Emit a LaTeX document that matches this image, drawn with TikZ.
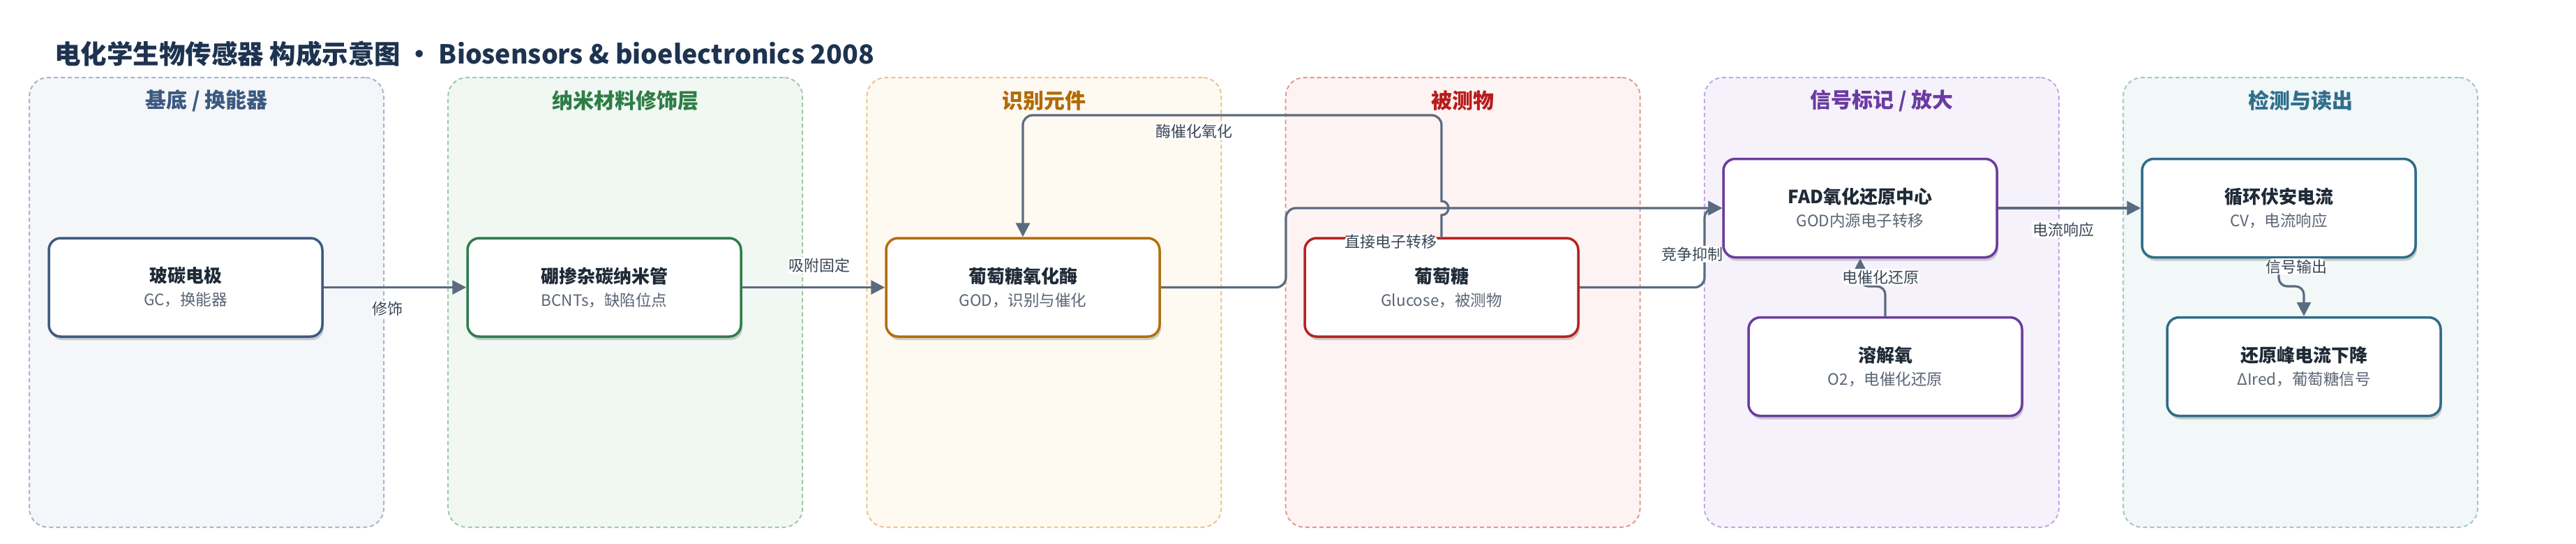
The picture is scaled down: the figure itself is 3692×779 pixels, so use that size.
\documentclass[tikz,border=0pt]{standalone}
\usepackage{fontspec}
\setmainfont{Noto Sans CJK SC}
\usetikzlibrary{shadows,arrows.meta}
\definecolor{ttl}{HTML}{1E3350}
\definecolor{tcol}{HTML}{1F2A37}
\definecolor{scol}{HTML}{5B6575}
\definecolor{lcol}{HTML}{3B4656}
\definecolor{ccol}{HTML}{5B6B7F}
\definecolor{pAf}{HTML}{F4F6FA}\definecolor{pAb}{HTML}{A8B6CC}\definecolor{pAt}{HTML}{3C5A80}\definecolor{bA}{HTML}{3F5A7E}
\definecolor{pBf}{HTML}{F1F8F3}\definecolor{pBb}{HTML}{9DCBAA}\definecolor{pBt}{HTML}{2E7D46}\definecolor{bB}{HTML}{2E7D4B}
\definecolor{pCf}{HTML}{FEF9F1}\definecolor{pCb}{HTML}{EDC58C}\definecolor{pCt}{HTML}{B26A05}\definecolor{bC}{HTML}{B36E0A}
\definecolor{pDf}{HTML}{FDF3F2}\definecolor{pDb}{HTML}{E29A94}\definecolor{pDt}{HTML}{B71C1C}\definecolor{bD}{HTML}{B42323}
\definecolor{pEf}{HTML}{F6F2FB}\definecolor{pEb}{HTML}{C2A9E0}\definecolor{pEt}{HTML}{6A3BA2}\definecolor{bE}{HTML}{6A3C9E}
\definecolor{pFf}{HTML}{F2F7F8}\definecolor{pFb}{HTML}{A5C5CF}\definecolor{pFt}{HTML}{2F6F8C}\definecolor{bF}{HTML}{2F6B88}
\newcommand\bxtext[2]{{\bfseries\color{tcol}#1}\\{\fontsize{22.5pt}{33pt}\selectfont\color{scol}#2}}
\tikzset{
  panel/.style={rectangle, rounded corners=27pt, line width=2pt, dash pattern=on 6pt off 4pt, minimum width=508pt, minimum height=644pt, inner sep=0pt},
  ptitle/.style={font=\fontsize{30pt}{34pt}\selectfont\bfseries, inner sep=0pt},
  box/.style={rectangle, rounded corners=17pt, line width=3.5pt, fill=white, minimum width=392pt, minimum height=141pt, inner sep=0pt, align=center, font=\fontsize{26pt}{33pt}\selectfont, drop shadow={shadow xshift=2pt, shadow yshift=-5pt, opacity=0.18, fill=black}},
  lbl/.style={font=\fontsize{22pt}{26pt}\selectfont, text=lcol, fill=white, inner sep=1.5pt},
  conn/.style={draw=ccol, line width=3.2pt, -{Triangle[length=20pt,width=20pt]}}
}
\begin{document}
\begin{tikzpicture}[x=1pt,y=-1pt]
\useasboundingbox (0,0) rectangle (3692,779);
\fill[white] (0,0) rectangle (3692,779);
\node[anchor=west, text=ttl, font=\fontsize{37.5pt}{44pt}\selectfont\bfseries, inner sep=0pt] (title) at (78,77) {电化学生物传感器 构成示意图 • Biosensors \& bioelectronics 2008};
% panels
\node[panel, draw=pAb, fill=pAf] (P1) at (296,433) {};
\node[panel, draw=pBb, fill=pBf] (P2) at (896.2,433) {};
\node[panel, draw=pCb, fill=pCf] (P3) at (1496.4,433) {};
\node[panel, draw=pDb, fill=pDf] (P4) at (2096.6,433) {};
\node[panel, draw=pEb, fill=pEf] (P5) at (2696.8,433) {};
\node[panel, draw=pFb, fill=pFf] (P6) at (3297,433) {};
\node[ptitle, text=pAt] (t1) at ([yshift=-34pt]P1.north) {基底 / 换能器};
\node[ptitle, text=pBt] (t2) at ([yshift=-34pt]P2.north) {纳米材料修饰层};
\node[ptitle, text=pCt] (t3) at ([yshift=-34pt]P3.north) {识别元件};
\node[ptitle, text=pDt] (t4) at ([yshift=-34pt]P4.north) {被测物};
\node[ptitle, text=pEt] (t5) at ([yshift=-34pt]P5.north) {信号标记 / 放大};
\node[ptitle, text=pFt] (t6) at ([yshift=-34pt]P6.north) {检测与读出};
% boxes
\node[box, draw=bA] (b1) at (266,411.5) {\bxtext{玻碳电极}{GC，换能器}};
\node[box, draw=bB] (b2) at (866,411.5) {\bxtext{硼掺杂碳纳米管}{BCNTs，缺陷位点}};
\node[box, draw=bC] (b3) at (1466,411.5) {\bxtext{葡萄糖氧化酶}{GOD，识别与催化}};
\node[box, draw=bD] (b4) at (2066,411.5) {\bxtext{葡萄糖}{Glucose，被测物}};
\node[box, draw=bE] (b5) at (2666,298) {\bxtext{FAD氧化还原中心}{GOD内源电子转移}};
\node[box, draw=bE] (b6) at (2702,525) {\bxtext{溶解氧}{O2，电催化还原}};
\node[box, draw=bF] (b7) at (3266,298) {\bxtext{循环伏安电流}{CV，电流响应}};
\node[box, draw=bF] (b8) at (3302,525) {\bxtext{还原峰电流下降}{ΔIred，葡萄糖信号}};
% connectors
\draw[conn] (b1.east) -- node[lbl, pos=0.45, yshift=-31pt] {修饰} (b2.west);
\draw[conn] (b2.east) -- node[lbl, pos=0.54, yshift=31.5pt] {吸附固定} (b3.west);
\draw[conn, rounded corners=14pt] (b3.east) -- (1843,411.5) -- (1843,298) -- node[lbl, pos=0.241, yshift=-48pt] {直接电子转移} (b5.west);
\draw[conn, rounded corners=14pt] (b4.east) -- (2443,411.5) -- node[lbl, pos=0.42, xshift=-18pt] {竞争抑制} (2443,298) -- (b5.west);
\draw[conn] (b4.north) -- (2066,308) .. controls (2079.3,308) and (2079.3,288) .. (2066,288) -- (2066,179) .. controls (2066,171.27) and (2059.73,165) .. (2052,165) -- node[lbl, pos=0.596, yshift=-23pt] {酶催化氧化} (1480,165) .. controls (1472.27,165) and (1466,171.27) .. (1466,179) -- (b3.north);
\draw[conn] (b5.east) -- node[lbl, pos=0.46, yshift=-31pt] {电流响应} (b7.west);
\draw[conn, rounded corners=12pt] (b6.north) -- (2702,410) -- (2666,410) -- node[lbl, pos=0.33, xshift=29pt] {电催化还原} (b5.south);
\draw[conn, rounded corners=12pt] (b7.south) -- node[lbl, pos=0.29, xshift=25pt] {信号输出} (3266,410) -- (3302,410) -- (b8.north);
\end{tikzpicture}
\end{document}
